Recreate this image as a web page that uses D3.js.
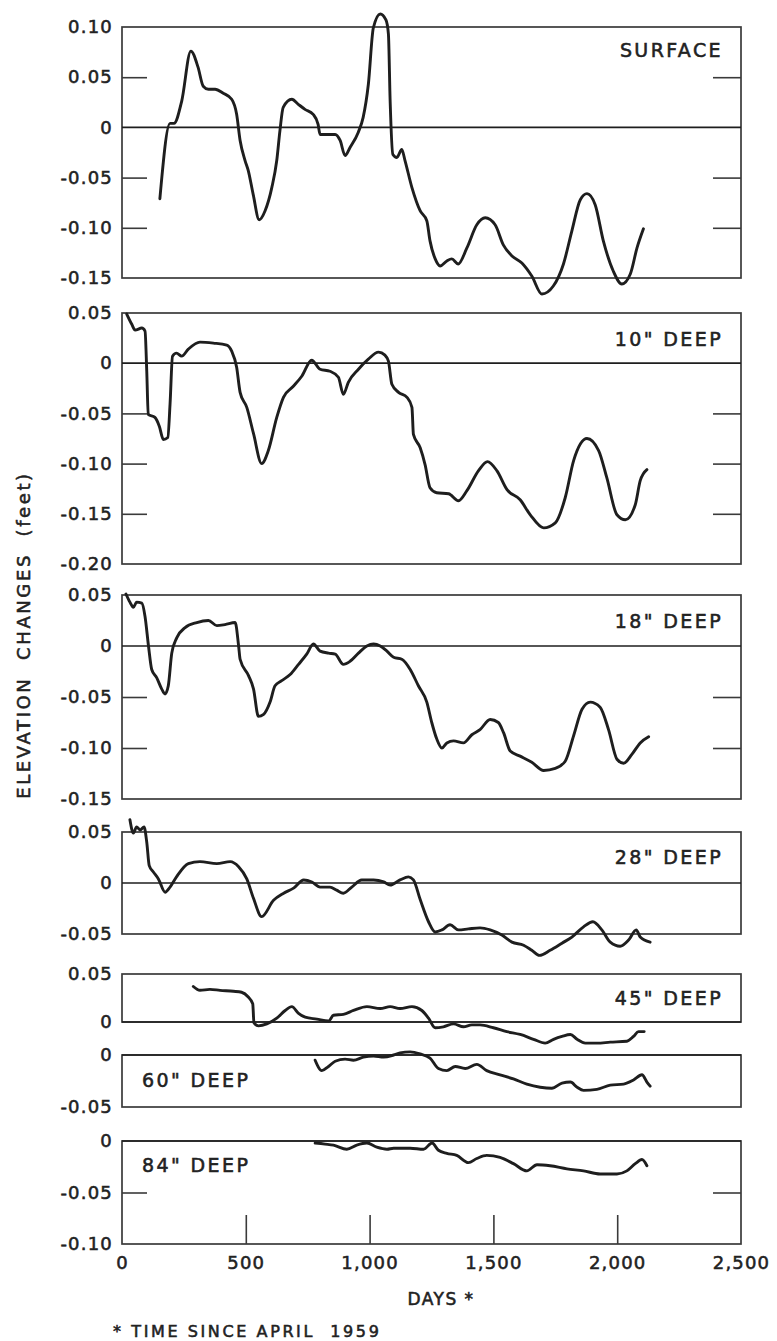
<!DOCTYPE html>
<html><head><meta charset="utf-8">
<script src="https://cdn.jsdelivr.net/npm/d3@7"></script>
<style>
body{margin:0;background:#fff}
text{font-family:"DejaVu Sans",sans-serif;fill:#222;stroke:#222;stroke-width:0.55px}
</style>
</head><body>
<svg id="c" width="777" height="1341"></svg>
<script>
// ---------- DATA ----------
const xTicks = [0, 500, 1000, 1500, 2000, 2500];
const xTickLabels = ["0", "500", "1,000", "1,500", "2,000", "2,500"];

const panelNames = ["SURFACE", "10\" DEEP", "18\" DEEP", "28\" DEEP", "45\" DEEP", "60\" DEEP", "84\" DEEP"];
const panelDomains = [[-0.15, 0.10], [-0.20, 0.05], [-0.15, 0.05], [-0.05, 0.05], [0, 0.05], [-0.05, 0], [-0.10, 0]];
const yTickLabels = [
  ["0.10", "0.05", "0", "-0.05", "-0.10", "-0.15"],
  ["0.05", "0", "-0.05", "-0.10", "-0.15", "-0.20"],
  ["0.05", "0", "-0.05", "-0.10", "-0.15"],
  ["0.05", "0", "-0.05"],
  ["0.05", "0"],
  ["0", "-0.05"],
  ["0", "-0.05", "-0.10"]
];

const surfaceDays = [153,194,210,241,278,307,328,349,376,409,443,463,477,497,510,530,554,578,605,625,638,651,686,712,739,772,792,800,861,881,901,921,954,974,995,1015,1043,1066,1076,1083,1094,1110,1130,1143,1171,1204,1231,1244,1265,1285,1312,1332,1358,1393,1433,1467,1507,1540,1575,1615,1655,1696,1742,1783,1817,1851,1878,1911,1944,1984,2019,2053,2080,2106];
const surfaceVals = [-0.071,0.004,0.004,0.026,0.076,0.060,0.041,0.038,0.038,0.034,0.028,0.013,-0.013,-0.033,-0.043,-0.067,-0.092,-0.083,-0.060,-0.033,-0.003,0.020,0.028,0.023,0.018,0.013,0.003,-0.007,-0.007,-0.013,-0.028,-0.020,-0.005,0.010,0.043,0.099,0.113,0.107,0.093,0.026,-0.027,-0.030,-0.022,-0.033,-0.060,-0.083,-0.093,-0.113,-0.131,-0.138,-0.133,-0.131,-0.136,-0.120,-0.097,-0.090,-0.097,-0.117,-0.128,-0.135,-0.148,-0.166,-0.158,-0.136,-0.103,-0.072,-0.066,-0.077,-0.113,-0.143,-0.156,-0.146,-0.120,-0.101];

const deep10Days = [19,39,53,80,93,100,106,133,151,167,185,194,204,220,241,268,315,369,423,443,463,477,504,531,564,591,625,652,692,726,766,800,840,874,894,914,955,995,1036,1062,1076,1090,1117,1151,1171,1177,1204,1224,1244,1271,1319,1359,1393,1440,1476,1514,1555,1608,1649,1703,1750,1790,1824,1878,1925,1958,1999,2033,2073,2093,2120];
const deep10Vals = [0.049,0.039,0.033,0.035,0.032,-0.008,-0.051,-0.054,-0.063,-0.076,-0.074,-0.041,0.007,0.010,0.007,0.014,0.021,0.020,0.018,0.012,-0.004,-0.029,-0.044,-0.070,-0.100,-0.087,-0.054,-0.034,-0.023,-0.013,0.003,-0.006,-0.008,-0.014,-0.031,-0.019,-0.006,0.004,0.011,0.008,0.002,-0.021,-0.029,-0.034,-0.044,-0.071,-0.084,-0.101,-0.124,-0.129,-0.130,-0.137,-0.127,-0.107,-0.098,-0.107,-0.126,-0.136,-0.151,-0.164,-0.159,-0.134,-0.097,-0.075,-0.087,-0.114,-0.151,-0.156,-0.141,-0.117,-0.106];

const deep18Days = [16,32,46,59,80,93,107,120,140,160,174,187,201,221,255,302,349,383,416,457,471,477,511,531,551,572,598,618,645,679,713,746,773,800,834,861,894,921,955,989,1016,1043,1070,1097,1130,1164,1197,1231,1251,1271,1292,1312,1339,1379,1413,1446,1487,1520,1541,1568,1608,1655,1703,1750,1790,1824,1858,1891,1931,1965,1999,2026,2060,2093,2127];
const deep18Vals = [0.051,0.043,0.038,0.043,0.042,0.029,0.000,-0.023,-0.031,-0.042,-0.047,-0.039,-0.007,0.008,0.018,0.023,0.025,0.020,0.021,0.023,0.000,-0.013,-0.029,-0.042,-0.069,-0.067,-0.055,-0.039,-0.034,-0.028,-0.018,-0.008,0.002,-0.005,-0.007,-0.008,-0.018,-0.015,-0.007,0.000,0.002,0.000,-0.005,-0.011,-0.013,-0.023,-0.039,-0.055,-0.075,-0.091,-0.100,-0.095,-0.093,-0.095,-0.087,-0.082,-0.072,-0.075,-0.085,-0.103,-0.108,-0.114,-0.122,-0.120,-0.113,-0.088,-0.062,-0.055,-0.060,-0.082,-0.111,-0.115,-0.106,-0.095,-0.089];

const deep28Days = [32,46,59,73,89,100,110,126,147,174,194,220,268,315,383,437,471,504,531,564,612,653,693,734,767,800,840,867,894,928,968,1016,1057,1083,1123,1157,1177,1204,1238,1265,1292,1325,1359,1399,1446,1487,1534,1575,1622,1655,1686,1729,1777,1817,1864,1902,1938,1972,2012,2046,2077,2093,2133];
const deep28Vals = [0.062,0.049,0.055,0.052,0.055,0.040,0.017,0.011,0.004,-0.009,-0.004,0.006,0.019,0.021,0.019,0.021,0.016,0.004,-0.015,-0.033,-0.017,-0.010,-0.005,0.003,0.001,-0.004,-0.004,-0.007,-0.010,-0.004,0.003,0.003,0.001,-0.002,0.003,0.006,0.003,-0.016,-0.038,-0.048,-0.046,-0.041,-0.046,-0.045,-0.044,-0.046,-0.051,-0.058,-0.061,-0.066,-0.071,-0.066,-0.059,-0.053,-0.043,-0.038,-0.046,-0.058,-0.062,-0.056,-0.046,-0.053,-0.058];

const deep45Days = [288,315,355,396,450,483,510,528,533,551,585,625,659,686,713,740,787,834,854,894,935,989,1043,1083,1123,1171,1211,1238,1265,1298,1339,1379,1413,1446,1500,1554,1608,1662,1709,1743,1777,1811,1838,1871,1918,1972,2039,2066,2086,2109];
const deep45Vals = [0.037,0.033,0.034,0.033,0.032,0.031,0.026,0.019,-0.001,-0.004,-0.002,0.004,0.012,0.016,0.009,0.005,0.003,0.001,0.007,0.008,0.012,0.016,0.014,0.016,0.014,0.016,0.012,0.004,-0.006,-0.005,-0.002,-0.005,-0.003,-0.003,-0.006,-0.010,-0.013,-0.018,-0.022,-0.018,-0.015,-0.013,-0.018,-0.022,-0.022,-0.021,-0.020,-0.015,-0.010,-0.010];

const deep60Days = [780,807,834,861,901,935,975,1016,1057,1097,1123,1164,1204,1244,1278,1312,1346,1386,1433,1473,1527,1581,1635,1689,1736,1777,1811,1838,1864,1918,1972,2026,2066,2100,2120,2133];
const deep60Vals = [-0.005,-0.015,-0.011,-0.006,-0.004,-0.005,-0.002,-0.001,-0.002,0.000,0.002,0.003,0.001,-0.003,-0.013,-0.015,-0.011,-0.013,-0.009,-0.015,-0.019,-0.023,-0.028,-0.031,-0.032,-0.027,-0.026,-0.031,-0.034,-0.033,-0.029,-0.028,-0.024,-0.019,-0.026,-0.030];

const deep84Days = [780,820,854,908,948,989,1029,1070,1097,1164,1218,1252,1278,1312,1352,1399,1433,1473,1527,1581,1635,1676,1729,1797,1864,1931,1999,2039,2073,2100,2120];
const deep84Vals = [-0.002,-0.003,-0.004,-0.008,-0.004,-0.002,-0.006,-0.008,-0.007,-0.007,-0.008,-0.002,-0.009,-0.012,-0.014,-0.021,-0.017,-0.014,-0.016,-0.022,-0.029,-0.023,-0.024,-0.027,-0.029,-0.032,-0.032,-0.029,-0.022,-0.018,-0.024];

const seriesDays = [surfaceDays, deep10Days, deep18Days, deep28Days, deep45Days, deep60Days, deep84Days];
const seriesVals = [surfaceVals, deep10Vals, deep18Vals, deep28Vals, deep45Vals, deep60Vals, deep84Vals];

// ---------- LAYOUT ----------
const panelTops = [27, 313, 595, 832, 974, 1055, 1141];
const panelBottoms = [278, 564, 799, 934, 1022, 1107, 1244];
const labelRight = [true, true, true, true, true, false, false];
const labelBaseOffset = [30, 33, 33, 32, 31, 32, 31];
const X0 = 122, X1 = 741;

const svg = d3.select("#c");
const x = d3.scaleLinear().domain([0, 2500]).range([X0, X1]);
const ink = "#1e1e1e", frameInk = "#3a3a3a";

panelNames.forEach((name, i) => {
  const dom = panelDomains[i];
  const y = d3.scaleLinear().domain(dom).range([panelBottoms[i], panelTops[i]]);
  const g = svg.append("g");
  const vals = yTickLabels[i].map(Number);
  const interior = vals.filter(v => v !== 0 && v > dom[0] + 1e-9 && v < dom[1] - 1e-9);

  g.append("rect").attr("x", X0).attr("y", panelTops[i])
    .attr("width", X1 - X0).attr("height", panelBottoms[i] - panelTops[i])
    .attr("fill", "none").attr("stroke", frameInk).attr("stroke-width", 1.7);
  g.append("line").attr("x1", X0).attr("x2", X1).attr("y1", y(0)).attr("y2", y(0))
    .attr("stroke", ink).attr("stroke-width", 1.7);

  const tl = g.append("g").attr("transform", `translate(${X0},0)`)
    .call(d3.axisRight(y).tickValues(interior).tickSize(25).tickFormat(""));
  const tr = g.append("g").attr("transform", `translate(${X1},0)`)
    .call(d3.axisLeft(y).tickValues(interior).tickSize(28).tickFormat(""));
  [tl, tr].forEach(a => { a.select(".domain").remove(); a.selectAll("line").attr("stroke", frameInk).attr("stroke-width", 1.6); });

  const lab = g.append("g").attr("transform", `translate(${X0},0)`)
    .call(d3.axisLeft(y).tickValues(vals).tickSize(0).tickPadding(9)
      .tickFormat((d, k) => yTickLabels[i][k]));
  lab.select(".domain").remove();
  lab.selectAll("text").attr("font-size", 18).attr("letter-spacing", 1.2)
    .attr("font-family", "DejaVu Sans").attr("fill", "#222");

  const pts = seriesDays[i].map((d, k) => [d, seriesVals[i][k]]);
  g.append("path").datum(pts)
    .attr("d", d3.line().x(d => x(d[0])).y(d => y(d[1])).curve(d3.curveMonotoneX))
    .attr("fill", "none").attr("stroke", ink).attr("stroke-width", 2.9)
    .attr("stroke-linejoin", "round").attr("stroke-linecap", "round");

  g.append("text")
    .attr("x", labelRight[i] ? 723 : 142)
    .attr("y", panelTops[i] + labelBaseOffset[i])
    .attr("text-anchor", labelRight[i] ? "end" : "start")
    .attr("font-size", 19).attr("letter-spacing", 2.4)
    .text(name);

  if (i === panelNames.length - 1) {
    const xt = g.append("g").attr("transform", `translate(0,${panelBottoms[i]})`)
      .call(d3.axisTop(x).tickValues(xTicks.slice(1, -1)).tickSize(29).tickFormat(""));
    xt.select(".domain").remove();
    xt.selectAll("line").attr("stroke", frameInk).attr("stroke-width", 1.6);
    const xl = g.append("g").attr("transform", `translate(0,${panelBottoms[i]})`)
      .call(d3.axisBottom(x).tickValues(xTicks).tickSize(0).tickPadding(12)
        .tickFormat((d, k) => xTickLabels[k]));
    xl.select(".domain").remove();
    xl.selectAll("text").attr("font-size", 18).attr("letter-spacing", 1.2)
      .attr("font-family", "DejaVu Sans").attr("fill", "#222");
  }
});

svg.append("text")
  .attr("transform", "translate(30,635) rotate(-90)")
  .attr("text-anchor", "middle").attr("font-size", 18).attr("letter-spacing", 2.6)
  .style("white-space", "pre")
  .text("ELEVATION  CHANGES  (feet)");
svg.append("text").attr("x", 441).attr("y", 1305).attr("text-anchor", "middle")
  .attr("font-size", 17).attr("letter-spacing", 1.5).text("DAYS *");
svg.append("text").attr("x", 113).attr("y", 1337)
  .attr("font-size", 16).attr("letter-spacing", 2.6)
  .style("white-space", "pre")
  .text("* TIME SINCE APRIL  1959");
</script>
</body></html>
